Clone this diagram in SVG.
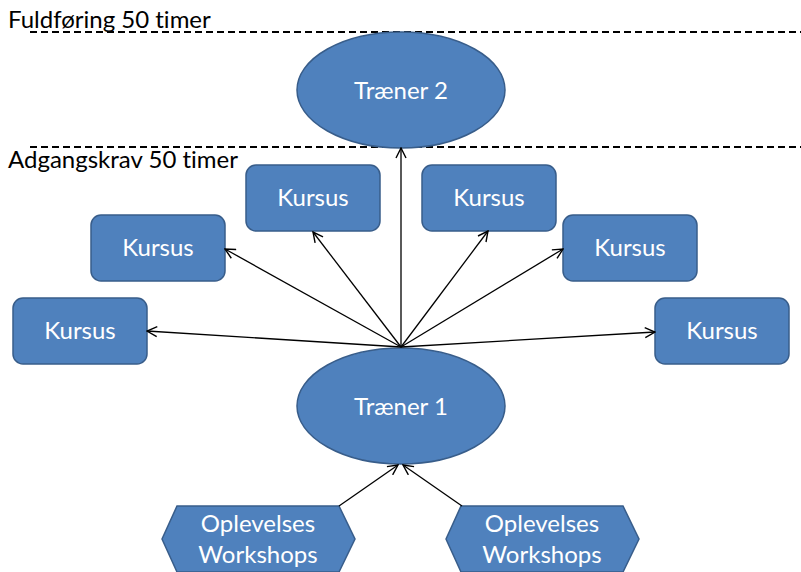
<svg xmlns="http://www.w3.org/2000/svg" width="801" height="572" viewBox="0 0 801 572">
<defs>
<marker id="arr" viewBox="0 0 12 12" refX="11" refY="6" markerWidth="12" markerHeight="12" markerUnits="userSpaceOnUse" orient="auto">
<path d="M1,1 L11,6 L1,11" fill="none" stroke="#000" stroke-width="1.4"/>
</marker>
<style>
.shape{fill:#4F81BD;stroke:#385D8A;stroke-width:1.5}
.lbl{font-family:Lato,"Liberation Sans",sans-serif;font-size:24px;fill:#fff;text-anchor:middle;font-variant-ligatures:none}
.ttl{font-family:Lato,"Liberation Sans",sans-serif;font-size:24px;fill:#000;font-variant-ligatures:none}
.dash{stroke:#000;stroke-width:1.8;stroke-dasharray:7 4;fill:none}
.con{stroke:#000;stroke-width:1.3;fill:none;marker-end:url(#arr)}
</style>
</defs>
<rect width="801" height="572" fill="#fff"/>
<g id="levels">
<line class="dash" x1="30" y1="32" x2="801" y2="32"/>
<line class="dash" x1="30" y1="147" x2="801" y2="147"/>
<text class="ttl" x="8" y="28">Fuldføring 50 timer</text>
<text class="ttl" x="8" y="168">Adgangskrav 50 timer</text>
</g>
<g id="traener2">
<ellipse class="shape" cx="401" cy="90" rx="104" ry="58"/>
<text class="lbl" x="401" y="99">Træner 2</text>
</g>
<g id="traener1">
<ellipse class="shape" cx="401" cy="406" rx="104" ry="58"/>
<text class="lbl" x="401" y="415">Træner 1</text>
</g>
<g id="kursus1">
<rect class="shape" x="13" y="298" width="134" height="66" rx="10"/>
<text class="lbl" x="80" y="339">Kursus</text>
</g>
<g id="kursus2">
<rect class="shape" x="91" y="215" width="134" height="66" rx="10"/>
<text class="lbl" x="158" y="256">Kursus</text>
</g>
<g id="kursus3">
<rect class="shape" x="246" y="165" width="134" height="66" rx="10"/>
<text class="lbl" x="313" y="206">Kursus</text>
</g>
<g id="kursus4">
<rect class="shape" x="422" y="165" width="134" height="66" rx="10"/>
<text class="lbl" x="489" y="206">Kursus</text>
</g>
<g id="kursus5">
<rect class="shape" x="563" y="215" width="134" height="66" rx="10"/>
<text class="lbl" x="630" y="256">Kursus</text>
</g>
<g id="kursus6">
<rect class="shape" x="655" y="298" width="134" height="66" rx="10"/>
<text class="lbl" x="722" y="339">Kursus</text>
</g>
<g id="workshop1">
<polygon class="shape" points="162,539 177,506 339,506 355,539 339,572 177,572"/>
<text class="lbl" x="258" y="532">Oplevelses</text>
<text class="lbl" x="258" y="563">Workshops</text>
</g>
<g id="workshop2">
<polygon class="shape" points="446,539 461,506 623,506 639,539 623,572 461,572"/>
<text class="lbl" x="542" y="532">Oplevelses</text>
<text class="lbl" x="542" y="563">Workshops</text>
</g>
<g id="connectors">
<line class="con" x1="401" y1="347" x2="147" y2="331"/>
<line class="con" x1="401" y1="347" x2="225" y2="249"/>
<line class="con" x1="401" y1="347" x2="313" y2="232"/>
<line class="con" x1="401" y1="347" x2="401" y2="148"/>
<line class="con" x1="401" y1="347" x2="488" y2="231"/>
<line class="con" x1="401" y1="347" x2="563" y2="249"/>
<line class="con" x1="401" y1="347" x2="655" y2="332"/>
<line class="con" x1="339" y1="506" x2="398" y2="465"/>
<line class="con" x1="462" y1="506" x2="403" y2="465"/>
</g>
</svg>
